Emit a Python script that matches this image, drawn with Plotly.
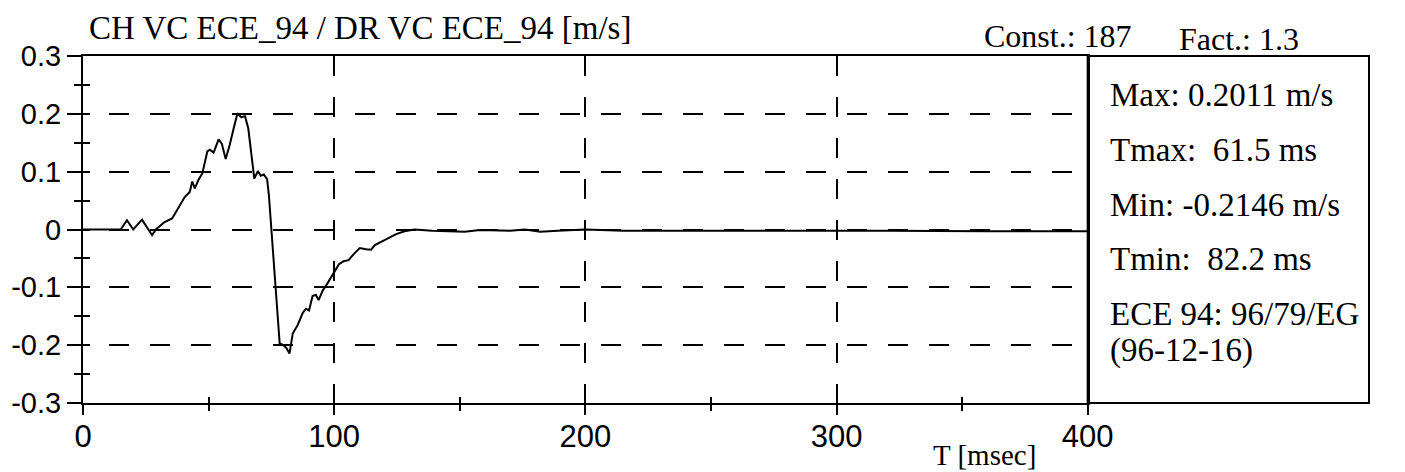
import plotly.graph_objects as go

# ---- data ----
time_ms = [0, 15, 17.5, 20, 23.5, 27.5, 29, 32.5, 35.5, 38.5, 40.5, 42.5, 43.5, 44.5,
           46, 47.5, 49.5, 50.5, 52, 54, 55.3, 56.8, 58.4, 60, 61.5, 63, 64.5, 65.8,
           67.5, 68.2, 69.6, 70.8, 72, 73.3, 74, 75, 76.5, 78.3, 79.8, 81, 82.2, 83.5,
           85.5, 87.5, 88.8, 90, 91.4, 92.7, 93.8, 95.4, 97.2, 98.6, 100.2, 101.9,
           103.7, 105.7, 107.7, 110.2, 112.7, 114.7, 116.2, 118.7, 121.7, 124.7, 128,
           132, 139, 145, 152, 158, 165, 170, 176, 182, 189, 200, 215, 240, 280, 320,
           360, 400]
velocity = [0, 0, 0.016, 0.0, 0.017, -0.01, 0.0, 0.013, 0.019, 0.042, 0.056, 0.065,
            0.083, 0.071, 0.086, 0.097, 0.135, 0.138, 0.133, 0.156, 0.148, 0.122, 0.146,
            0.175, 0.2011, 0.194, 0.196, 0.175, 0.105, 0.088, 0.101, 0.093, 0.095, 0.087,
            0.06, 0.0, -0.1, -0.197, -0.2, -0.205, -0.2146, -0.18, -0.165, -0.144,
            -0.137, -0.14, -0.115, -0.113, -0.122, -0.106, -0.094, -0.084, -0.072,
            -0.06, -0.055, -0.053, -0.043, -0.032, -0.034, -0.035, -0.027, -0.021,
            -0.014, -0.008, -0.003, 0.0, -0.002, -0.003, -0.004, -0.001, -0.002, -0.002,
            0.0, -0.004, -0.002, 0.0, -0.002, -0.002, -0.001, -0.002, -0.003, -0.003]

x_tick_vals = [0, 100, 200, 300, 400]
x_tick_text = ["0", "100", "200", "300", "400"]
y_tick_vals = [-0.3, -0.2, -0.1, 0, 0.1, 0.2, 0.3]
y_tick_text = ["-0.3", "-0.2", "-0.1", "0", "0.1", "0.2", "0.3"]

title_text = "CH VC ECE_94 / DR VC ECE_94 [m/s]"
const_text = "Const.: 187"
fact_text = "Fact.: 1.3"
info_lines = ["Max: 0.2011 m/s", "Tmax:\u00a0 61.5 ms", "Min: -0.2146 m/s",
              "Tmin:\u00a0 82.2 ms", "ECE 94: 96/79/EG", "(96-12-16)"]
x_title = "T [msec]"

# ---- layout geometry ----
W, H = 1405, 472
L, R, T, B = 83, 10, 56, 69
plot_w = W - L - R
plot_h = H - T - B
x_frac = 1025 / plot_w

def px_x(px):
    return (px - L) / plot_w

def px_y(py):
    return 1 - (py - T) / plot_h

SERIF = "Liberation Serif"
SANS = "Liberation Sans"

fig = go.Figure()
fig.add_trace(go.Scatter(x=time_ms, y=velocity, mode="lines",
                         line=dict(color="black", width=2),
                         hoverinfo="skip", showlegend=False))
fig.add_trace(go.Scatter(x=time_ms, y=velocity, xaxis="x2", yaxis="y2", mode="lines",
                         line=dict(color="rgba(0,0,0,0)", width=1),
                         hoverinfo="skip", showlegend=False))

fig.update_layout(
    width=W, height=H,
    margin=dict(l=L, r=R, t=T, b=B, pad=0),
    plot_bgcolor="white", paper_bgcolor="white",
    showlegend=False,
    xaxis=dict(
        domain=[0, x_frac], range=[0, 400], showline=True, linecolor="black",
        linewidth=2, mirror=True, ticks="outside", ticklen=10, tickwidth=2,
        tickcolor="black", tickvals=x_tick_vals, ticktext=x_tick_text,
        tickfont=dict(family=SANS, size=31, color="black"), ticklabelstandoff=-5,
        showgrid=True, gridcolor="black", gridwidth=1.5, griddash="20px,21px",
        zeroline=False,
        minor=dict(ticks="outside", ticklen=6, tickwidth=2, tickcolor="black",
                   dtick=50, tick0=0, showgrid=False),
    ),
    yaxis=dict(
        range=[-0.3, 0.3], showline=True, linecolor="black", linewidth=2,
        mirror=True, ticks="outside", ticklen=14, tickwidth=2, tickcolor="black",
        tickvals=y_tick_vals, ticktext=y_tick_text,
        tickfont=dict(family=SANS, size=29, color="black"),
        showgrid=True, gridcolor="black", gridwidth=1.5,
        griddash="5px,21px,15px,0px", zeroline=False,
        minor=dict(ticks="outside", ticklen=7, tickwidth=2, tickcolor="black",
                   dtick=0.05, tick0=0, showgrid=False),
    ),
    xaxis2=dict(
        overlaying="x", anchor="y2", range=[0, 400], ticks="inside", ticklen=10,
        tickwidth=2, tickcolor="black", tickvals=x_tick_vals,
        showticklabels=False, showgrid=False, showline=False, zeroline=False,
        minor=dict(ticks="inside", ticklen=6, tickwidth=2, tickcolor="black",
                   dtick=50, tick0=0, showgrid=False),
    ),
    yaxis2=dict(
        overlaying="y", anchor="x2", range=[-0.3, 0.3], ticks="inside", ticklen=6,
        tickwidth=2, tickcolor="black", tickvals=y_tick_vals,
        showticklabels=False, showgrid=False, showline=False, zeroline=False,
        minor=dict(ticks="inside", ticklen=7, tickwidth=2, tickcolor="black",
                   dtick=0.05, tick0=0, showgrid=False),
    ),
)

fig.add_shape(type="rect", xref="paper", yref="paper", x0=x_frac, x1=1, y0=0, y1=1,
              line=dict(color="black", width=2))

ann = []
ann.append(dict(text=title_text, x=px_x(87), y=px_y(28), xanchor="left",
                yanchor="middle", font=dict(family=SERIF, size=33, color="black")))
ann.append(dict(text=const_text, x=px_x(1000), y=px_y(36), xanchor="left",
                yanchor="middle", font=dict(family=SERIF, size=32, color="black")))
ann.append(dict(text=fact_text, x=px_x(1199), y=px_y(39), xanchor="left",
                yanchor="middle", font=dict(family=SERIF, size=32, color="black")))
info_y = [95, 150, 205, 259, 314, 350]
for txt, py in zip(info_lines, info_y):
    ann.append(dict(text=txt, x=px_x(1129), y=px_y(py), xanchor="left",
                    yanchor="middle", font=dict(family=SERIF, size=33, color="black")))
ann.append(dict(text=x_title, x=px_x(1003), y=px_y(455), xanchor="center",
                yanchor="middle", font=dict(family=SERIF, size=29, color="black")))
for a in ann:
    a.update(xref="paper", yref="paper", showarrow=False)
fig.update_layout(annotations=ann)

fig.write_html("out.html",
               config={"displayModeBar": False},
               post_script="document.body.style.margin='0';"
                           "document.body.style.overflow='hidden';")
